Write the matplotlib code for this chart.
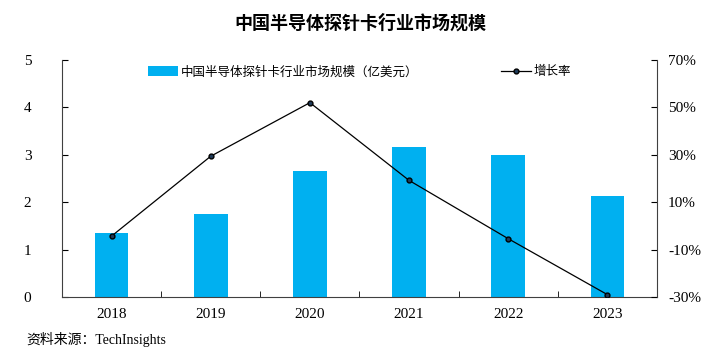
import matplotlib
matplotlib.use("Agg")
import matplotlib.pyplot as plt
from matplotlib.ticker import FuncFormatter

plt.rcParams['font.family'] = ['Liberation Serif', 'Noto Sans CJK SC']

years = ["2018", "2019", "2020", "2021", "2022", "2023"]
market = [1.36, 1.76, 2.66, 3.17, 3.00, 2.13]   # 亿美元
growth = [-4.3, 29.4, 52.0, 19.2, -5.4, -29.0]  # %

fig = plt.figure(figsize=(7.2, 3.54), dpi=100)
ax = fig.add_axes([0.0861, 0.161, 0.8264, 0.6695])
x = range(len(years))

bars = ax.bar(x, market, width=0.34, color="#00B0F0", label="中国半导体探针卡行业市场规模（亿美元）", zorder=2)
ax.set_xlim(-0.5, 5.5)
ax.set_ylim(0, 5)
ax.set_yticks(range(0, 6))
ax.set_xticks(list(x))
ax.set_xticklabels(years, fontsize=11)
ax.set_xticks([i + 0.5 for i in range(5)], minor=True)
ax.tick_params(axis='x', which='major', length=0, pad=8)
ax.tick_params(axis='x', which='minor', direction='in', length=4)
ax.tick_params(axis='y', direction='in', length=4, labelsize=11, pad=22)
for s in ['top', 'right']:
    ax.spines[s].set_visible(False)
for s in ['left', 'bottom']:
    ax.spines[s].set_color("#404040")

ax2 = ax.twinx()
ln, = ax2.plot(x, growth, color="black", lw=0.9, marker="o", markersize=3.5,
               markerfacecolor="#1f3b5a", markeredgecolor="black", label="增长率", zorder=3)
ax2.set_ylim(-30, 70)
ax2.set_yticks(range(-30, 71, 20))
ax2.yaxis.set_major_formatter(FuncFormatter(lambda v, p: f"{v:.0f}%"))
ax2.tick_params(axis='y', direction='in', length=4, labelsize=11, pad=8)
for s in ['top', 'left', 'bottom']:
    ax2.spines[s].set_visible(False)
ax2.spines['right'].set_color("#404040")

leg = ax.legend([bars, ln], [bars.get_label(), ln.get_label()], loc='center',
                bbox_to_anchor=(0.5, 0.95), ncol=2, frameon=False,
                handlelength=2.4, handleheight=0.8, handletextpad=0.25, columnspacing=6.6,
                prop={'family': ['Noto Sans CJK SC'], 'size': 9, 'weight': 'light'})

fig.text(0.5, 0.935, "中国半导体探针卡行业市场规模", ha='center', va='center',
         fontsize=13, fontweight='bold', family=['Noto Sans CJK SC'])
fig.text(0.037, 0.04, "资料来源：TechInsights", ha='left', va='center', fontsize=10)

fig.savefig("out.png", dpi=100)
